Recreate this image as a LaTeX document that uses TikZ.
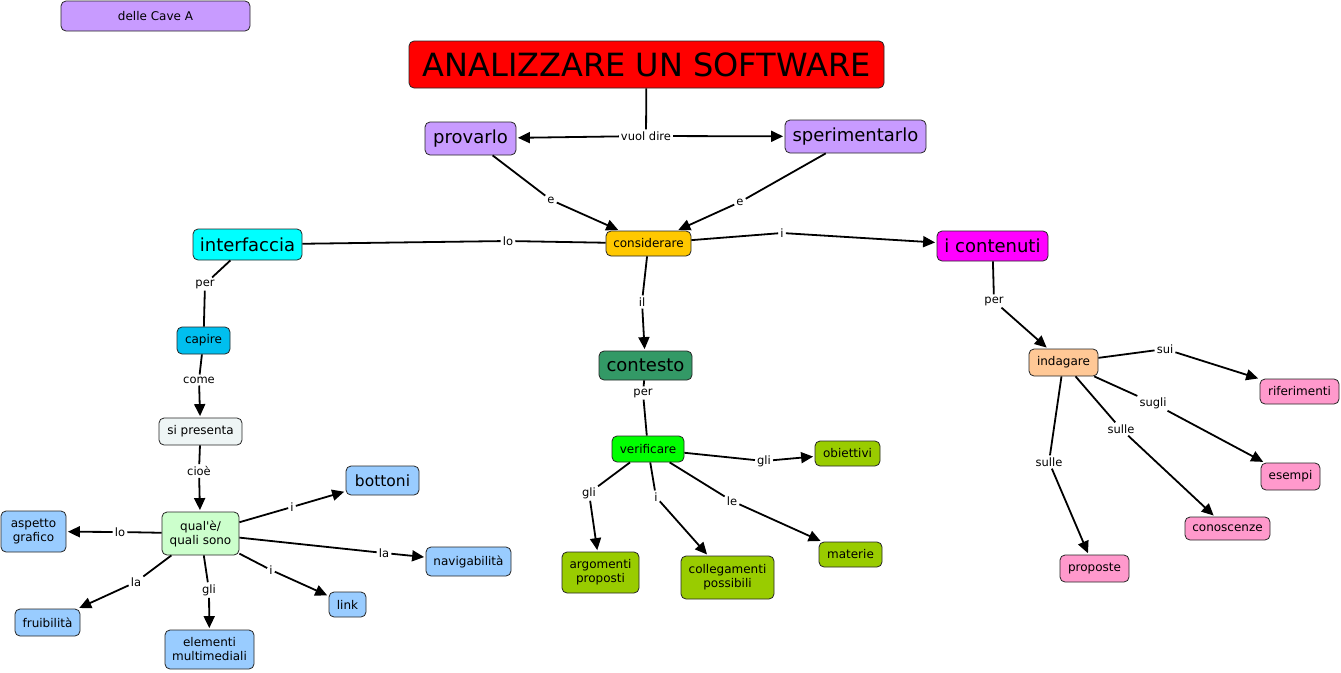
\documentclass[tikz,border=0pt]{standalone}
\usepackage{fontspec}
\setmainfont{DejaVu Sans}
\usetikzlibrary{arrows.meta}
\definecolor{lav}{RGB}{200,155,255}
\definecolor{consc}{RGB}{255,200,0}
\definecolor{cyanc}{RGB}{0,255,255}
\definecolor{mag}{RGB}{255,0,255}
\definecolor{dkgreen}{RGB}{51,153,102}
\definecolor{capc}{RGB}{0,191,239}
\definecolor{lightc}{RGB}{238,245,245}
\definecolor{lgreen}{RGB}{204,255,204}
\definecolor{lblue}{RGB}{153,204,255}
\definecolor{bgreen}{RGB}{0,255,0}
\definecolor{olive}{RGB}{153,204,0}
\definecolor{peach}{RGB}{255,200,150}
\definecolor{pinkc}{RGB}{255,153,204}
\begin{document}
\begin{tikzpicture}[x=1pt,y=-1pt,
  box/.style={draw=black!85, rounded corners=5pt, line width=0.8pt, inner sep=0pt, align=center, font=\fontsize{12}{14}\selectfont},
  big/.style={box, font=\fontsize{18}{21}\selectfont},
  lbl/.style={inner sep=2pt, font=\fontsize{11.5}{13}\selectfont},
  conn/.style={line width=1.8pt},
  arr/.style={line width=1.8pt, shorten >=1.5pt, -{Triangle[length=12pt,width=11pt]}},
]
\useasboundingbox (0,0) rectangle (1341,672);
% concepts
\node[box, fill=lav, minimum width=189pt, minimum height=30pt] (cave) at (155.5,16) {delle Cave A};
\node[box, fill=red, minimum width=475pt, minimum height=47pt, font=\fontsize{32}{36}\selectfont] (title) at (646.5,64.5) {ANALIZZARE UN SOFTWARE};
\node[big, fill=lav, minimum width=91pt, minimum height=33pt] (prov) at (470.5,138.5) {provarlo};
\node[big, fill=lav, minimum width=141pt, minimum height=33pt] (sper) at (855.5,136.5) {sperimentarlo};
\node[box, fill=consc, minimum width=85pt, minimum height=25pt] (cons) at (648.5,243.5) {considerare};
\node[big, fill=cyanc, minimum width=109pt, minimum height=31pt] (intf) at (247.5,244.5) {interfaccia};
\node[big, fill=mag, minimum width=111pt, minimum height=30pt] (cont) at (992.5,246) {i contenuti};
\node[big, fill=dkgreen, minimum width=93pt, minimum height=29pt] (ctx) at (645.5,365.5) {contesto};
\node[box, fill=capc, minimum width=53pt, minimum height=27pt] (cap) at (203.5,340.5) {capire};
\node[box, fill=lightc, minimum width=83pt, minimum height=27pt] (sip) at (200.5,431.5) {si presenta};
\node[box, fill=lgreen, minimum width=77pt, minimum height=43pt] (qual) at (200.5,533.5) {qual\textquotesingle è/\\quali sono};
\node[box, fill=lblue, minimum width=65pt, minimum height=41pt] (asp) at (33.5,531.5) {aspetto\\grafico};
\node[box, fill=lblue, minimum width=73pt, minimum height=29pt, font=\fontsize{15.5}{18}\selectfont] (bot) at (382.5,480.5) {bottoni};
\node[box, fill=lblue, minimum width=85pt, minimum height=29pt] (nav) at (468.5,561.5) {navigabilità};
\node[box, fill=lblue, minimum width=37pt, minimum height=25pt] (link) at (347.5,604.5) {link};
\node[box, fill=lblue, minimum width=65pt, minimum height=27pt] (frui) at (47.5,622.5) {fruibilità};
\node[box, fill=lblue, minimum width=89pt, minimum height=39pt] (elem) at (209.5,649.5) {elementi\\multimediali};
\node[box, fill=bgreen, minimum width=72pt, minimum height=26pt] (ver) at (648,449) {verificare};
\node[box, fill=olive, minimum width=65pt, minimum height=25pt] (obi) at (847.5,453.5) {obiettivi};
\node[box, fill=olive, minimum width=77pt, minimum height=41pt] (arg) at (600.5,572.5) {argomenti\\proposti};
\node[box, fill=olive, minimum width=93pt, minimum height=43pt] (coll) at (727.5,577.5) {collegamenti\\possibili};
\node[box, fill=olive, minimum width=63pt, minimum height=25pt] (mat) at (850.5,554.5) {materie};
\node[box, fill=peach, minimum width=69pt, minimum height=27pt] (ind) at (1063.5,362.5) {indagare};
\node[box, fill=pinkc, minimum width=79pt, minimum height=25pt] (rif) at (1299.5,391.5) {riferimenti};
\node[box, fill=pinkc, minimum width=59pt, minimum height=27pt] (ese) at (1290.5,476.5) {esempi};
\node[box, fill=pinkc, minimum width=85pt, minimum height=23pt] (cono) at (1227.5,528.5) {conoscenze};
\node[box, fill=pinkc, minimum width=69pt, minimum height=27pt] (prop) at (1094.5,568.5) {proposte};
% labels
\node[lbl] (lvd) at (646,136) {vuol dire};
\node[lbl] (le1) at (551,200) {e};
\node[lbl] (le2) at (740,202) {e};
\node[lbl] (llo1) at (508,241) {lo};
\node[lbl] (li1) at (782,233) {i};
\node[lbl] (lil) at (642,302) {il};
\node[lbl] (lper1) at (643,393) {per};
\node[lbl] (lper2) at (205,284) {per};
\node[lbl] (lcome) at (199,380) {come};
\node[lbl] (lcioe) at (199,471) {cioè};
\node[lbl] (llo2) at (120,532) {lo};
\node[lbl] (li2) at (292,507) {i};
\node[lbl] (lla1) at (384,553) {la};
\node[lbl] (li3) at (271,570) {i};
\node[lbl] (lgli1) at (209,590) {gli};
\node[lbl] (lla2) at (136,582) {la};
\node[lbl] (lgli2) at (764,461) {gli};
\node[lbl] (lgli3) at (589,493) {gli};
\node[lbl] (li4) at (656,497) {i};
\node[lbl] (lle) at (732,501) {le};
\node[lbl] (lper3) at (994,301) {per};
\node[lbl] (lsui) at (1165,349) {sui};
\node[lbl] (lsugli) at (1153,403) {sugli};
\node[lbl] (lsulle1) at (1121,429) {sulle};
\node[lbl] (lsulle2) at (1049,462) {sulle};
% connectors
\draw[conn] (title) -- (lvd);
\draw[arr] (lvd) -- (prov);
\draw[arr] (lvd) -- (sper);
\draw[conn] (prov) -- (le1); \draw[arr] (le1) -- (cons);
\draw[conn] (sper) -- (le2); \draw[arr] (le2) -- (cons);
\draw[conn] (cons) -- (llo1); \draw[conn] (llo1) -- (intf);
\draw[conn] (cons) -- (li1); \draw[arr] (li1) -- (cont);
\draw[conn] (cons) -- (lil); \draw[arr] (lil) -- (ctx);
\draw[conn] (ctx) -- (lper1); \draw[conn] (lper1) -- (ver);
\draw[conn] (intf) -- (lper2); \draw[conn] (lper2) -- (cap);
\draw[conn] (cap) -- (lcome); \draw[arr] (lcome) -- (sip);
\draw[conn] (sip) -- (lcioe); \draw[arr] (lcioe) -- (qual);
\draw[conn] (qual) -- (llo2); \draw[arr] (llo2) -- (asp);
\draw[conn] (qual) -- (li2); \draw[arr] (li2) -- (bot);
\draw[conn] (qual) -- (lla1); \draw[arr] (lla1) -- (nav);
\draw[conn] (qual) -- (li3); \draw[arr] (li3) -- (link);
\draw[conn] (qual) -- (lgli1); \draw[arr] (lgli1) -- (elem);
\draw[conn] (qual) -- (lla2); \draw[arr] (lla2) -- (frui);
\draw[conn] (ver) -- (lgli2); \draw[arr] (lgli2) -- (obi);
\draw[conn] (ver) -- (lgli3); \draw[arr] (lgli3) -- (arg);
\draw[conn] (ver) -- (li4); \draw[arr] (li4) -- (coll);
\draw[conn] (ver) -- (lle); \draw[arr] (lle) -- (mat);
\draw[conn] (cont) -- (lper3); \draw[arr] (lper3) -- (ind);
\draw[conn] (ind) -- (lsui); \draw[arr] (lsui) -- (rif);
\draw[conn] (ind) -- (lsugli); \draw[arr] (lsugli) -- (ese);
\draw[conn] (ind) -- (lsulle1); \draw[arr] (lsulle1) -- (cono);
\draw[conn] (ind) -- (lsulle2); \draw[arr] (lsulle2) -- (prop);
\end{tikzpicture}
\end{document}
